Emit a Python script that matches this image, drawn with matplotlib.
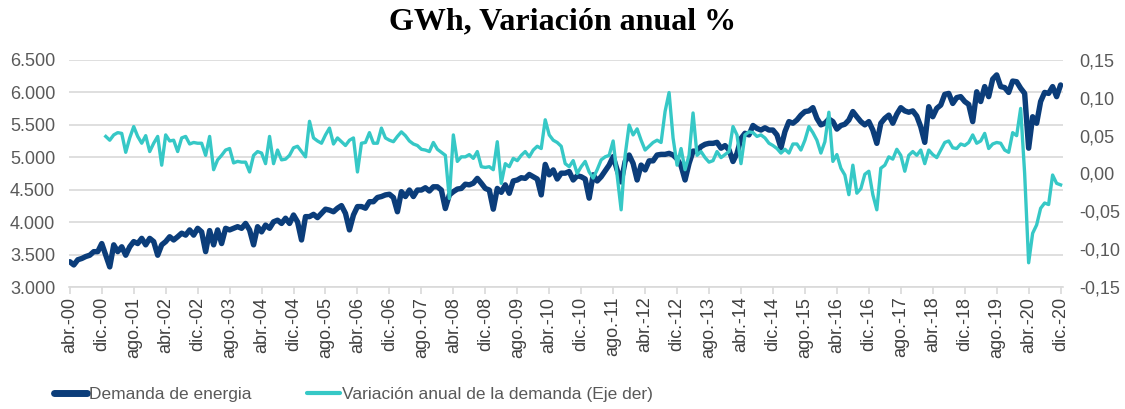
import numpy as np
import matplotlib
matplotlib.use("Agg")
import matplotlib.pyplot as plt
from matplotlib.lines import Line2D
from matplotlib.ticker import FuncFormatter

# Demanda mensual de energia (GWh), abr-00 .. dic-20
demanda = [
    3390, 3340, 3420, 3440, 3470, 3490, 3545, 3545, 3670, 3490, 3310, 3650,
    3545, 3620, 3490, 3620, 3700, 3670, 3750, 3650, 3750, 3700, 3490, 3650,
    3700, 3775, 3725, 3775, 3830, 3800, 3880, 3800, 3905, 3850, 3545, 3870,
    3650, 3880, 3670, 3905, 3880, 3905, 3930, 3905, 3980, 3880, 3650, 3930,
    3850, 3955, 3905, 4005, 4030, 3980, 4060, 3980, 4110, 4005, 3725, 4085,
    4085, 4120, 4070, 4135, 4200, 4185, 4160, 4215, 4255, 4135, 3880, 4110,
    4240, 4240, 4215, 4315, 4315, 4380, 4395, 4420, 4430, 4380, 4160, 4470,
    4395, 4495, 4395, 4495, 4495, 4530, 4480, 4545, 4545, 4495, 4210, 4420,
    4470, 4510, 4520, 4585, 4575, 4600, 4675, 4600, 4520, 4495, 4200, 4520,
    4460, 4575, 4445, 4635, 4650, 4685, 4675, 4735, 4700, 4665, 4420, 4890,
    4730, 4805, 4665, 4755, 4755, 4780, 4650, 4715, 4700, 4665, 4370, 4730,
    4635, 4700, 4790, 4880, 5010, 4805, 4620, 4935, 5035, 4905, 4650, 4880,
    4805, 4945, 4945, 5035, 5045, 5045, 5060, 5035, 4975, 4870, 4650, 4905,
    5095, 5095, 5165, 5200, 5215, 5215, 5230, 5140, 5180, 5115, 4935, 5060,
    5290, 5370, 5345, 5490, 5445, 5420, 5455, 5420, 5420, 5345, 5145, 5395,
    5550, 5525, 5575, 5650, 5705, 5715, 5765, 5600, 5500, 5525, 5590, 5550,
    5435, 5490, 5510, 5575, 5705, 5625, 5550, 5500, 5550, 5420, 5215, 5525,
    5600, 5650, 5525, 5665, 5765, 5715, 5695, 5715, 5635, 5470, 5230, 5780,
    5625, 5755, 5805, 5970, 5985, 5830, 5920, 5935, 5860, 5815, 5550, 6010,
    5860, 6090, 5935, 6205, 6270, 6090, 6075, 6000, 6175, 6165, 6065, 5985,
    5140, 5625, 5525, 5860, 6000, 5985, 6090, 5935, 6115,
]

# Variacion anual de la demanda (eje derecho)
variacion = [None] * 9 + [
    0.049, 0.044, 0.051,
    0.054, 0.053, 0.028, 0.047, 0.062, 0.049, 0.040, 0.050, 0.029, 0.040, 0.049, 0.011,
    0.051, 0.043, 0.044, 0.029, 0.047, 0.049, 0.039, 0.041, 0.040, 0.040, 0.024, 0.049,
    0.005, 0.018, 0.024, 0.031, 0.033, 0.014, 0.016, 0.015, 0.015, 0.002, 0.024, 0.029,
    0.027, 0.013, 0.049, 0.013, 0.031, 0.018, 0.019, 0.024, 0.034, 0.036, 0.029, 0.022,
    0.069, 0.047, 0.043, 0.040, 0.051, 0.060, 0.039, 0.047, 0.042, 0.037, 0.044, 0.047,
    0.002, 0.040, 0.041, 0.054, 0.040, 0.040, 0.060, 0.047, 0.044, 0.042, 0.049, 0.055,
    0.050, 0.043, 0.039, 0.037, 0.032, 0.031, 0.029, 0.041, 0.032, 0.028, 0.024, -0.033,
    0.051, 0.016, 0.022, 0.022, 0.025, 0.020, 0.029, 0.009, 0.008, 0.009, 0.005, 0.042,
    -0.013, 0.013, 0.009, 0.020, 0.017, 0.024, 0.029, 0.022, 0.031, 0.036, 0.033, 0.071,
    0.051, 0.044, 0.041, 0.036, 0.013, 0.009, 0.017, 0.000, 0.009, 0.016, 0.002, -0.006,
    0.005, 0.018, 0.022, 0.024, 0.043, -0.002, -0.048, 0.024, 0.064, 0.051, 0.059, 0.044,
    0.031, 0.036, 0.041, 0.044, 0.041, 0.082, 0.107, 0.047, 0.011, 0.033, 0.005, 0.024,
    0.080, 0.024, 0.029, 0.021, 0.015, 0.017, 0.029, 0.021, 0.025, 0.029, 0.062, 0.051,
    0.013, 0.051, 0.055, 0.054, 0.049, 0.051, 0.047, 0.040, 0.037, 0.033, 0.027, 0.032,
    0.027, 0.039, 0.039, 0.031, 0.044, 0.062, 0.054, 0.044, 0.027, 0.042, 0.081, 0.016,
    0.025, 0.007, -0.002, -0.028, 0.011, -0.026, -0.020, -0.001, 0.003, -0.028, -0.048, 0.007,
    0.011, 0.022, 0.019, 0.032, 0.024, 0.003, 0.024, 0.029, 0.024, 0.031, 0.013, 0.031,
    0.025, 0.021, 0.031, 0.041, 0.043, 0.034, 0.033, 0.039, 0.037, 0.041, 0.051, 0.040,
    0.043, 0.053, 0.033, 0.039, 0.041, 0.040, 0.031, 0.028, 0.054, 0.050, 0.086, 0.000,
    -0.118, -0.079, -0.068, -0.046, -0.039, -0.041, -0.002, -0.013, -0.015,
]

tick_labels = [
    "abr.-00", "dic.-00", "ago.-01", "abr.-02", "dic.-02", "ago.-03", "abr.-04", "dic.-04",
    "ago.-05", "abr.-06", "dic.-06", "ago.-07", "abr.-08", "dic.-08", "ago.-09", "abr.-10",
    "dic.-10", "ago.-11", "abr.-12", "dic.-12", "ago.-13", "abr.-14", "dic.-14", "ago.-15",
    "abr.-16", "dic.-16", "ago.-17", "abr.-18", "dic.-18", "ago.-19", "abr.-20", "dic.-20",
]

plt.rcParams['font.family'] = ['Liberation Sans', 'DejaVu Sans']

dark = "#0B3D7A"
turq = "#36C8C6"
grid_c = "#d9d9d9"

x = np.arange(len(demanda))
var = np.array(variacion, dtype=float)

W, H = 1125, 409
fig = plt.figure(figsize=(W / 100, H / 100), dpi=100)
ax = fig.add_axes([69 / W, 1 - 287 / H, (1063 - 69) / W, (287 - 60) / H])

ax.plot(x, demanda, color=dark, lw=3.9, solid_joinstyle='round', solid_capstyle='round')
ax.set_xlim(-0.2, 248.6)
ax.set_ylim(3000, 6500)
ax.set_yticks(np.arange(3000, 6501, 500))
ax.yaxis.set_major_formatter(FuncFormatter(lambda v, p: f"{int(v):,}".replace(",", ".")))
ax.grid(axis='y', color=grid_c, lw=1.2)
ax.set_axisbelow(True)
for s in ['top', 'left', 'right']:
    ax.spines[s].set_visible(False)
ax.spines['bottom'].set_color(grid_c)
ax.spines['bottom'].set_linewidth(1.2)

ax.set_xticks(np.arange(0, len(demanda), 8))
ax.set_xticklabels(tick_labels, rotation=90)
ax.tick_params(axis='x', length=5, width=1.2, color=grid_c, labelsize=13,
               labelcolor='#404040', pad=2)
ax.tick_params(axis='y', length=0, labelsize=13, labelcolor='#595959', pad=10)

ax2 = ax.twinx()
ax2.plot(x, var, color=turq, lw=2.4, solid_joinstyle='round')
ax2.set_ylim(-0.15, 0.15)
ax2.set_yticks(np.linspace(-0.15, 0.15, 7))
ax2.yaxis.set_major_formatter(FuncFormatter(lambda v, p: f"{round(v, 2) + 0:.2f}".replace(".", ",")))
ax2.tick_params(axis='y', length=0, labelsize=13, labelcolor='#595959', pad=12)
for s in ax2.spines.values():
    s.set_visible(False)

fig.text(0.5, 1 - 22 / H, "GWh, Variación anual %", ha='center', va='center',
         fontsize=23, fontweight='bold', family='Liberation Serif')

handles = [
    Line2D([], [], color=dark, lw=5, solid_capstyle='round'),
    Line2D([], [], color=turq, lw=3, solid_capstyle='round'),
]
fig.legend(handles, ["Demanda de energia", "Variación anual de la demanda (Eje der)"],
           loc='center left', bbox_to_anchor=(54 / W, 1 - 394 / H), ncol=2,
           frameon=False, handlelength=1.9, handletextpad=0.1, columnspacing=3.2,
           borderpad=0, borderaxespad=0, fontsize=12.5, labelcolor='#595959')

fig.savefig("out.png", dpi=100)
